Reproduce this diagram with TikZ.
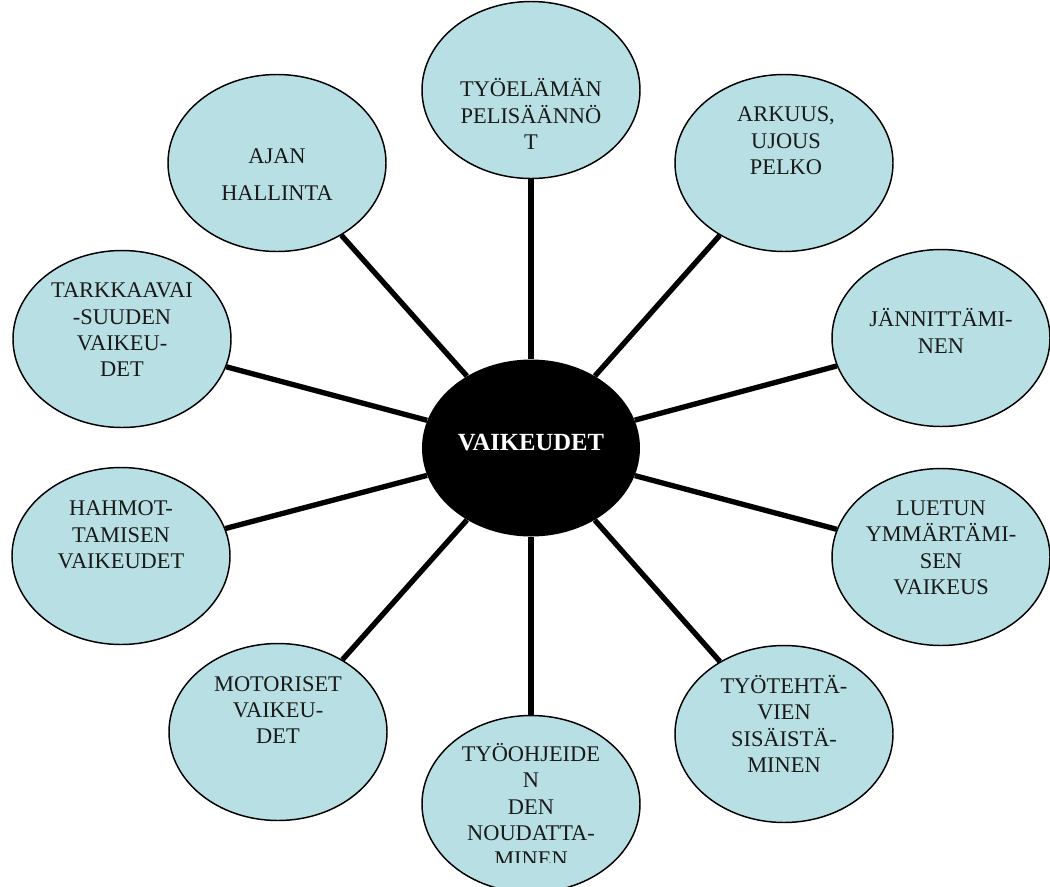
\documentclass[tikz,border=0pt]{standalone}
\usepackage{fontspec}
\setmainfont{Liberation Serif}
\usetikzlibrary{shapes.geometric}

\definecolor{bubblefill}{RGB}{184,224,228}
\tikzset{
  bubble/.style={ellipse, draw=black, line width=1.1pt, fill=bubblefill,
    minimum width=163.5pt, minimum height=132.75pt, inner sep=0pt},
  hub/.style={ellipse, fill=black, minimum width=163.5pt, minimum height=132.75pt, inner sep=0pt},
  txt/.style={align=center, text=black!90, font=\fontsize{16.8}{19.8}\selectfont},
  spoke/.style={line width=4pt}
}

\begin{document}
\begin{tikzpicture}[x=0.75pt,y=0.75pt,yscale=-1,xscale=1]
\useasboundingbox (0,0) rectangle (1050,886);

%Shape: Ellipse (centre)
\node[hub] (vaik) at (531,448) {};
%Shape: Ellipse
\node[bubble] (tyoel) at (531,90) {};
%Shape: Ellipse
\node[bubble] (arkuus) at (784,163) {};
%Shape: Ellipse
\node[bubble] (jann) at (941,338) {};
%Shape: Ellipse
\node[bubble] (luetun) at (941,557) {};
%Shape: Ellipse
\node[bubble] (tyoteh) at (784,734) {};
%Shape: Ellipse
\node[bubble] (tyooh) at (531,804) {};
%Shape: Ellipse
\node[bubble] (motor) at (278,732) {};
%Shape: Ellipse
\node[bubble] (hahmot) at (121,556) {};
%Shape: Ellipse
\node[bubble] (tarkk) at (122,339) {};
%Shape: Ellipse
\node[bubble] (ajan) at (277,163) {};

%Straight Lines
\foreach \n in {tyoel,arkuus,jann,luetun,tyoteh,tyooh,motor,hahmot,tarkk,ajan}
  \draw[spoke] (vaik) -- (\n);

% Text Node
\node[txt, text=white, font=\fontsize{18.5}{22}\selectfont\bfseries] (t-vaik) at (531,443) {VAIKEUDET};
% Text Node
\node[txt] (t-tyoel) at (531,114) {TYÖELÄMÄN\\PELISÄÄNNÖ\\T};
% Text Node
\node[txt] (t-arkuus) at (786,141) {ARKUUS,\\UJOUS\\PELKO};
% Text Node
\node[txt] (t-jann) at (941,331) {JÄNNITTÄMI-\\NEN};
% Text Node
\node[txt] (t-luetun) at (941,548) {LUETUN\\YMMÄRTÄMI-\\SEN\\VAIKEUS};
% Text Node
\node[txt] (t-tyoteh) at (784,724) {TYÖTEHTÄ-\\VIEN\\SISÄISTÄ-\\MINEN};
% Text Node
\begin{scope}
\clip (0,0) rectangle (1050,862);
\node[txt] (t-tyooh) at (531,805) {TYÖOHJEIDE\\N\\DEN\\NOUDATTA-\\MINEN};
\end{scope}
% Text Node
\node[txt] (t-motor) at (278,710) {MOTORISET\\VAIKEU-\\DET};
% Text Node
\node[txt] (t-hahmot) at (121,535) {HAHMOT-\\TAMISEN\\VAIKEUDET};
% Text Node
\node[txt] (t-tarkk) at (122,330) {TARKKAAVAI\\-SUUDEN\\VAIKEU-\\DET};
% Text Node
\node[txt] (t-ajan) at (277,175) {AJAN\\[8pt]HALLINTA};
\end{tikzpicture}
\end{document}
